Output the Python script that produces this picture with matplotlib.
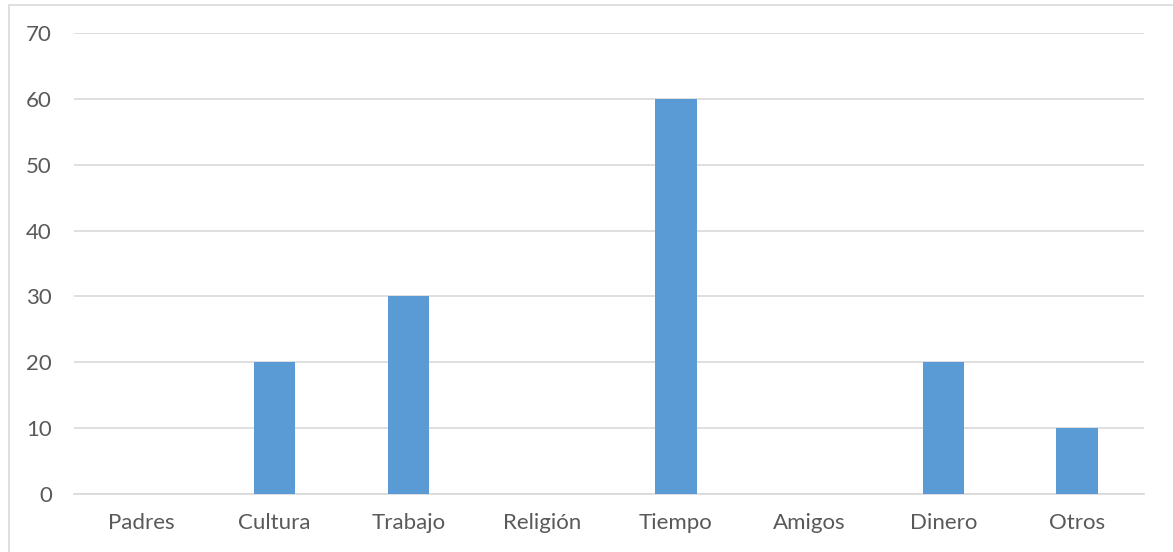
import matplotlib.pyplot as plt
from matplotlib.patches import Rectangle

# data
categories = ['Padres', 'Cultura', 'Trabajo', 'Religión', 'Tiempo', 'Amigos', 'Dinero', 'Otros']
values = [0, 20, 30, 0, 60, 0, 20, 10]
yticks = [0, 10, 20, 30, 40, 50, 60, 70]

plt.rcParams['font.family'] = ['Lato', 'DejaVu Sans']

fig = plt.figure(figsize=(11.73, 5.52), dpi=100)
ax = fig.add_axes([0.0631, 0.1051, 0.9122, 0.8351])

# chart frame (top/left edges visible in the crop)
fig.patches.append(Rectangle((9 / 1173, -0.05), 1.1, 1 - 4.5 / 552 + 0.05,
                             transform=fig.transFigure, fill=False,
                             edgecolor='#D9D9D9', linewidth=1.2, zorder=0))

x = range(len(categories))
ax.bar(x, values, width=0.31, color='#5B9BD5', zorder=3)

ax.set_xlim(-0.5, len(categories) - 0.5)
ax.set_ylim(0, 70)
ax.set_yticks(yticks)
ax.set_xticks(list(x))
ax.set_xticklabels(categories)

ax.grid(axis='y', color='#D9D9D9', linewidth=1.2, zorder=0)
for s in ['top', 'right', 'left']:
    ax.spines[s].set_visible(False)
ax.spines['bottom'].set_color('#D9D9D9')
ax.spines['bottom'].set_linewidth(1.2)
ax.tick_params(axis='both', length=0, labelsize=16, labelcolor='#595959')
ax.tick_params(axis='y', pad=16)
ax.tick_params(axis='x', pad=14)

fig.savefig('out.png', dpi=100)
